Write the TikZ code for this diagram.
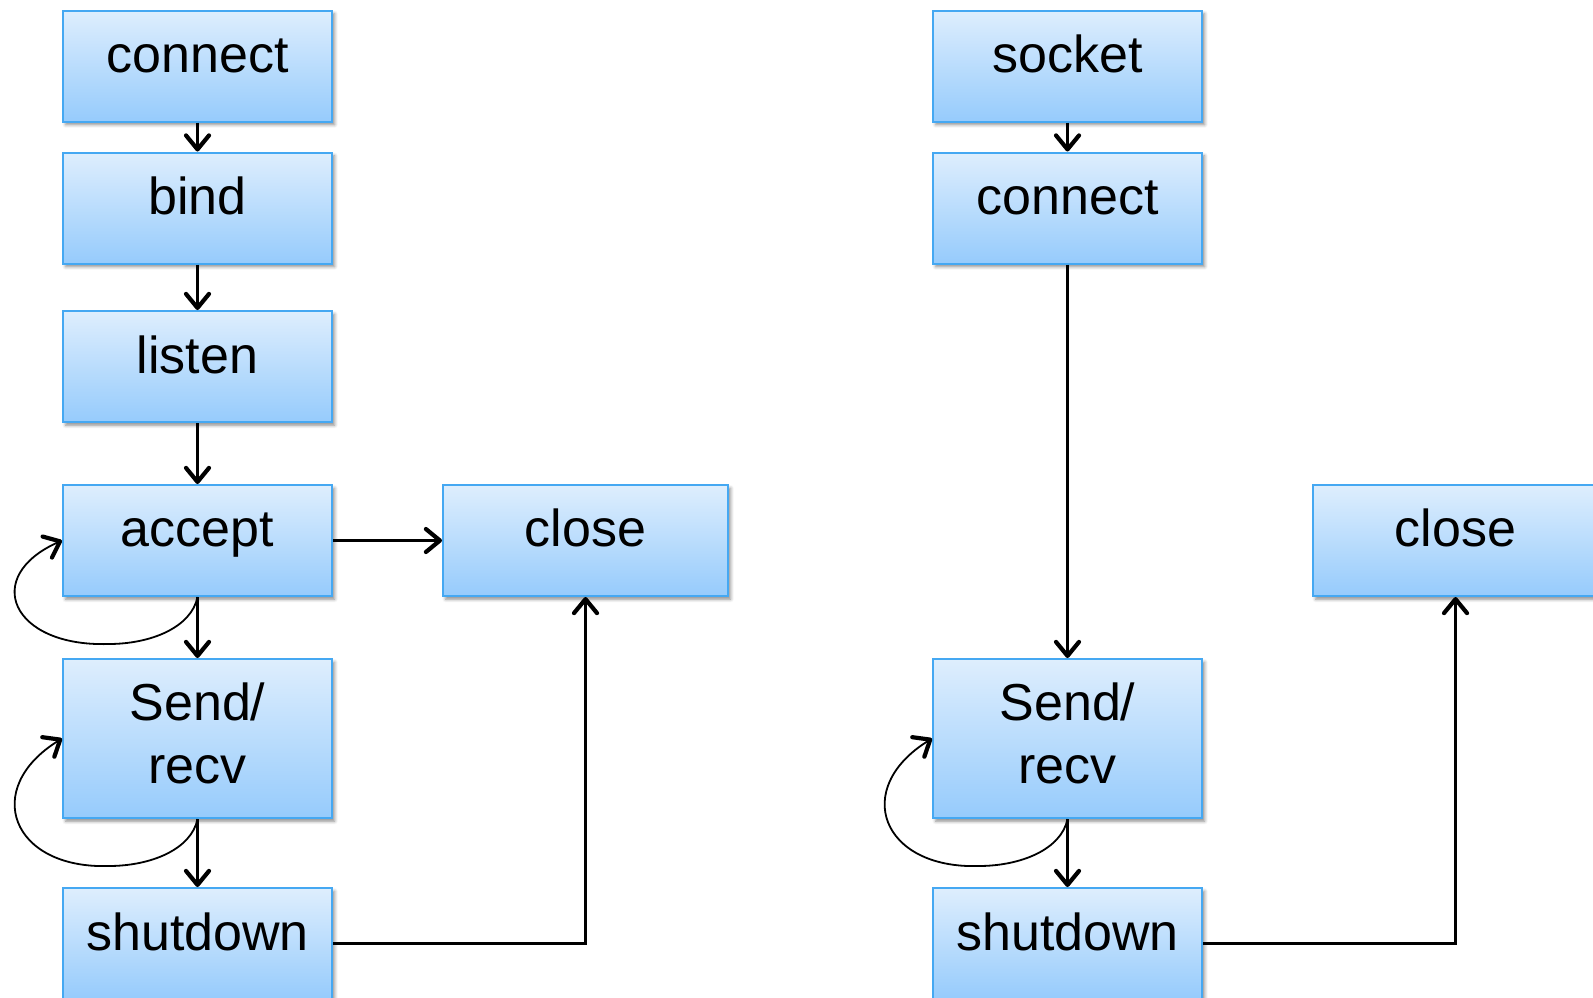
\documentclass[tikz,border=0pt]{standalone}
\usepackage{fontspec}
\setmainfont{Liberation Sans}
\usetikzlibrary{arrows.meta,shadows.blur,calc}
\definecolor{bxborder}{HTML}{45A8F2}
\definecolor{bxtop}{HTML}{DEEEFD}
\definecolor{bxbot}{HTML}{96CBFC}
\begin{document}
\begin{tikzpicture}[x=0.5pt,y=-0.5pt,
 box/.style={draw=bxborder, line width=1pt, top color=bxtop, bottom color=bxbot,
   minimum width=134.5pt, minimum height=55.5pt, inner sep=0pt, anchor=north west,
   blur shadow={shadow xshift=1.3pt, shadow yshift=-1.6pt, shadow blur radius=1.6pt, shadow opacity=45}},
 widebox/.style={box, minimum width=142.5pt},
 tallbox/.style={box, minimum height=79.5pt},
 lbl/.style={anchor=base, font=\fontsize{26pt}{31pt}\selectfont, inner sep=0pt},
 arr/.style={line width=1.05pt, -{Straight Barb[length=7pt,width=11.5pt,line width=2.1pt,round]}},
 looparr/.style={line width=0.9pt, -{Straight Barb[length=7pt,width=11.5pt,line width=2.1pt,round]}}
]
\useasboundingbox (0,0) rectangle (1593,997);
\clip (0,0) rectangle (1593,997);

% ---------- left column ----------
\node[box] (lconnect) at (62,9.5) {};
\node[box] (lbind) at (62,151.5) {};
\node[box] (llisten) at (62,310) {};
\node[box] (laccept) at (62,484) {};
\node[widebox] (lclose) at (442,484) {};
\node[tallbox] (lsend) at (62,658) {};
\node[box] (lshut) at (62,887) {};

\node[lbl] (tlconnect) at ($(lconnect.north)+(0,63)$) {connect};
\node[lbl] (tlbind) at ($(lbind.north)+(0,63)$) {bind};
\node[lbl] (tllisten) at ($(llisten.north)+(0,63)$) {listen};
\node[lbl] (tlaccept) at ($(laccept.north)+(0,62)$) {accept};
\node[lbl] (tlclose) at ($(lclose.north)+(0,62)$) {close};
\node[lbl] (tlsend) at ($(lsend.north)+(0,62)$) {Send/};
\node[lbl] (tlrecv) at ($(lsend.north)+(0,125)$) {recv};
\node[lbl] (tlshut) at ($(lshut.north)+(0,63)$) {shutdown};

\draw[arr] (lconnect) -- (lbind);
\draw[arr] (lbind) -- (llisten);
\draw[arr] (llisten) -- (laccept);
\draw[arr] (laccept) -- (lclose);
\draw[arr] (laccept) -- (lsend);
\draw[arr] (lsend) -- (lshut);
\draw[arr] (lshut.east) -| (lclose.south);
\draw[looparr] (laccept.south) .. controls +(-6,30) and +(43,0) .. ($(laccept.south)+(-89,47)$)
   .. controls +(-97,3) and +(-81,36) .. (laccept.west);
\draw[looparr] (lsend.south) .. controls +(-6,30) and +(43,0) .. ($(lsend.south)+(-89,47)$)
   .. controls +(-97,3) and +(-81,50) .. (lsend.west);

% ---------- right column ----------
\node[box] (rsocket) at (932,9.5) {};
\node[box] (rconnect) at (932,151.5) {};
\node[tallbox] (rsend) at (932,658) {};
\node[box] (rshut) at (932,887) {};
\node[widebox] (rclose) at (1312,484) {};

\node[lbl] (trsocket) at ($(rsocket.north)+(0,63)$) {socket};
\node[lbl] (trconnect) at ($(rconnect.north)+(0,63)$) {connect};
\node[lbl] (trsend) at ($(rsend.north)+(0,62)$) {Send/};
\node[lbl] (trrecv) at ($(rsend.north)+(0,125)$) {recv};
\node[lbl] (trshut) at ($(rshut.north)+(0,63)$) {shutdown};
\node[lbl] (trclose) at ($(rclose.north)+(0,62)$) {close};

\draw[arr] (rsocket) -- (rconnect);
\draw[arr] (rconnect) -- (rsend);
\draw[arr] (rsend) -- (rshut);
\draw[arr] (rshut.east) -| (rclose.south);
\draw[looparr] (rsend.south) .. controls +(-6,30) and +(43,0) .. ($(rsend.south)+(-89,47)$)
   .. controls +(-97,3) and +(-81,50) .. (rsend.west);
\end{tikzpicture}
\end{document}
